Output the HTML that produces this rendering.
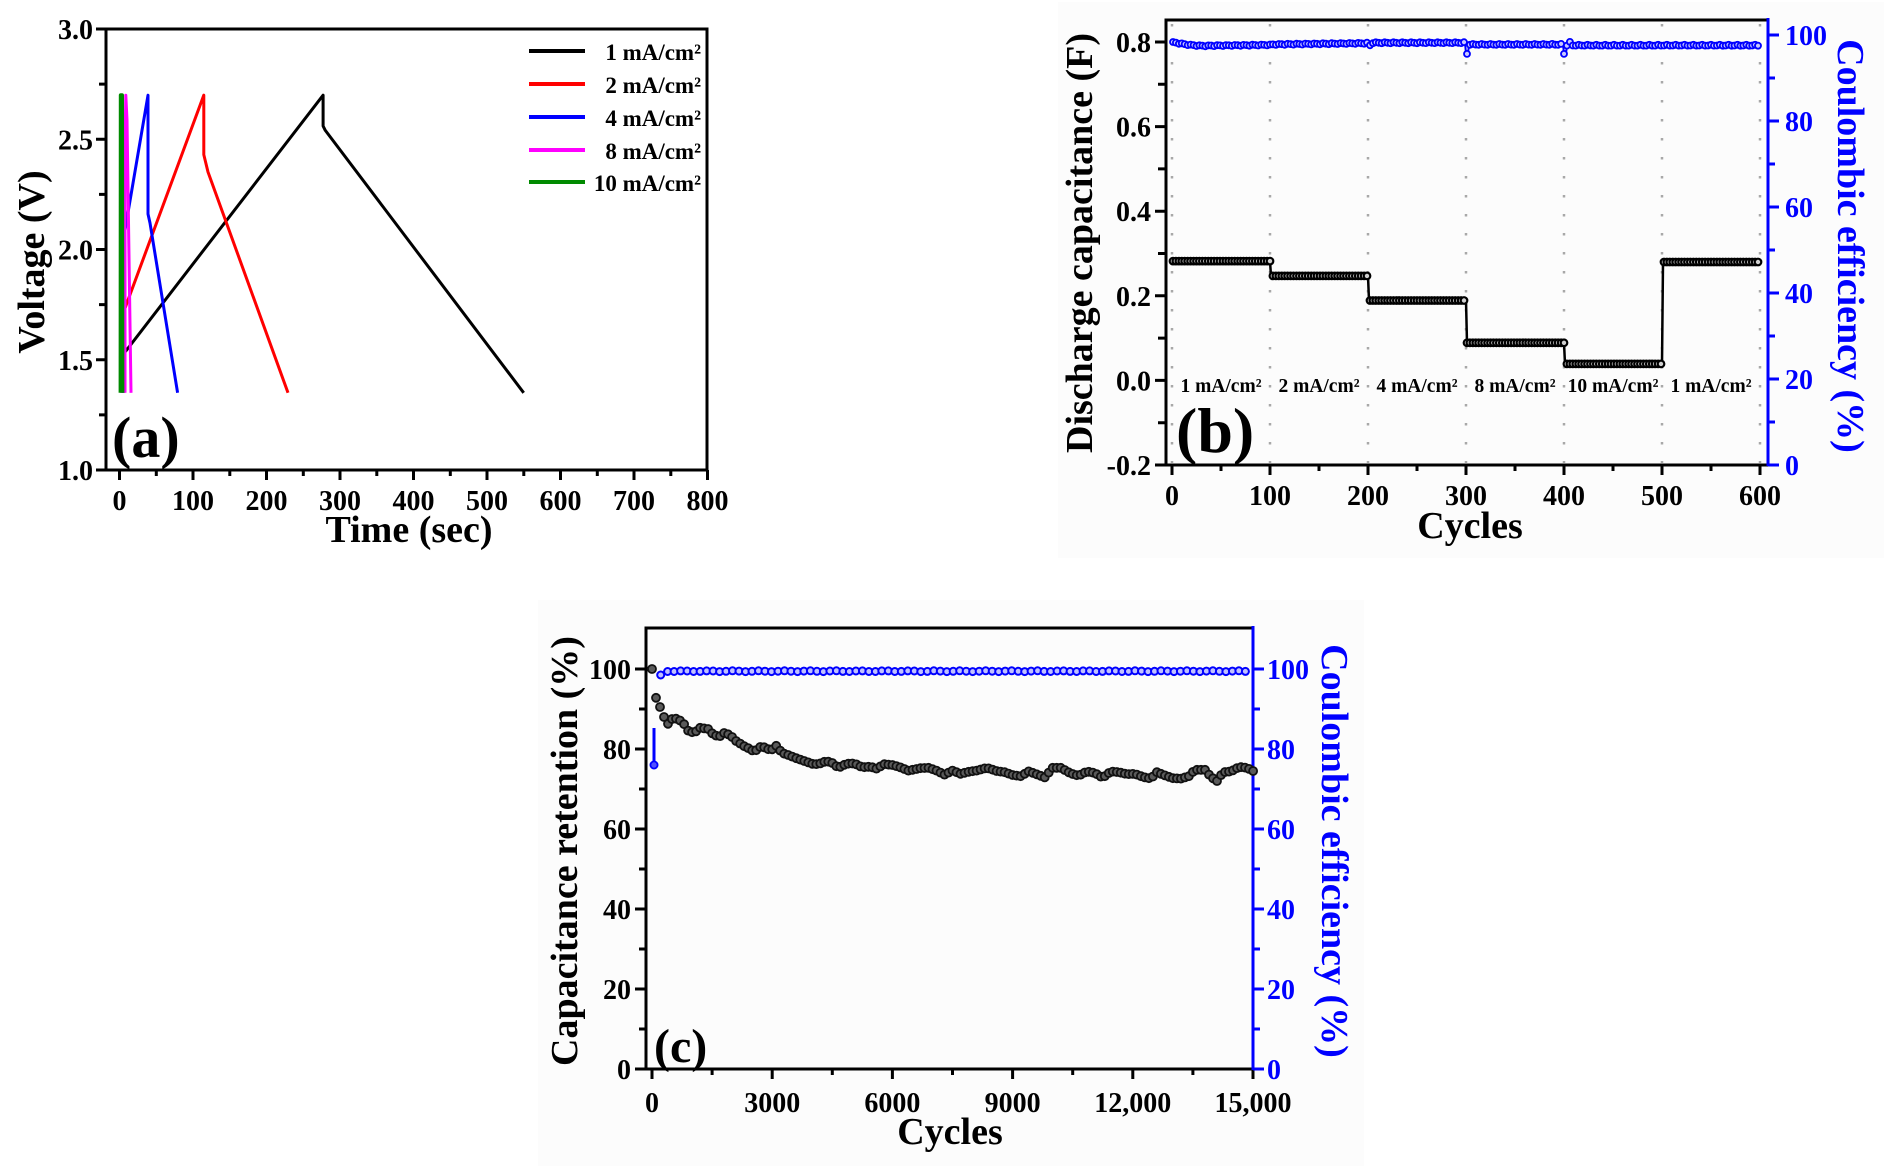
<!DOCTYPE html>
<html><head><meta charset="utf-8"><style>
html,body{margin:0;padding:0;background:#fff}
svg{display:block}
text{font-family:"Liberation Serif","Times New Roman",serif;font-weight:bold}
</style></head><body>
<svg id="d" width="1888" height="1172" viewBox="0 0 1888 1172" xmlns="http://www.w3.org/2000/svg">
<rect width="1888" height="1172" fill="#fff"/>
<rect x="1058" y="2" width="826" height="556" fill="#fcfcfc"/>
<rect x="538" y="600" width="826" height="566" fill="#fcfcfc"/>

<!-- ===== Panel (a) ===== -->
<g stroke="#000" stroke-width="3" fill="none">
<rect x="106" y="29" width="601" height="441"/>
<path d="M96 470H106M96 359.8H106M96 249.5H106M96 139.3H106M96 29H106M99 414.9H106M99 304.6H106M99 194.4H106M99 84.1H106"/>
<path d="M119.5 470V480M193 470V480M266.5 470V480M340 470V480M413.5 470V480M487 470V480M560.5 470V480M634 470V480M707.5 470V480M156.3 470V476M229.8 470V476M303.3 470V476M376.8 470V476M450.3 470V476M523.8 470V476M597.3 470V476M670.8 470V476"/>
</g>
<g font-size="28" text-anchor="end">
<text x="93" y="480">1.0</text><text x="93" y="370">1.5</text><text x="93" y="259.5">2.0</text><text x="93" y="149.3">2.5</text><text x="93" y="39">3.0</text>
</g>
<g font-size="28" text-anchor="middle">
<text x="119.5" y="510">0</text><text x="193" y="510">100</text><text x="266.5" y="510">200</text><text x="340" y="510">300</text><text x="413.5" y="510">400</text><text x="487" y="510">500</text><text x="560.5" y="510">600</text><text x="634" y="510">700</text><text x="707.5" y="510">800</text>
</g>
<text x="409" y="542" font-size="38" text-anchor="middle">Time (sec)</text>
<text transform="translate(44,262) rotate(-90)" font-size="38" text-anchor="middle">Voltage (V)</text>
<text x="112" y="457" font-size="58">(a)</text>
<g fill="none" stroke-width="3" stroke-linejoin="round">
<polyline stroke="#000" points="121.7,392.8 121.7,356.4 323.1,95.2 323.1,126 325.3,130.4 523.7,392.8"/>
<polyline stroke="#ff0000" points="123.9,392.8 123.9,311.2 203.8,95.2 203.8,154.7 208,172 288,392.8"/>
<polyline stroke="#0000ff" points="123.2,392.8 123.2,240.7 148,95.2 148,214 150,223 177.6,392.8"/>
<polyline stroke="#ff00ff" points="125,392.8 125,150 125.8,95.2 127,120 131,392.8"/>
<polyline stroke="#008a00" stroke-width="4" points="120.6,392.8 120.8,95.2 122,95.2 122.4,392.8"/>
</g>
<g stroke-width="4">
<line x1="529" y1="51" x2="585" y2="51" stroke="#000"/>
<line x1="529" y1="84" x2="585" y2="84" stroke="#ff0000"/>
<line x1="529" y1="117" x2="585" y2="117" stroke="#0000ff"/>
<line x1="529" y1="150" x2="585" y2="150" stroke="#ff00ff"/>
<line x1="529" y1="182" x2="585" y2="182" stroke="#008a00"/>
</g>
<g font-size="23" text-anchor="end">
<text x="701" y="60">1 mA/cm²</text>
<text x="701" y="93">2 mA/cm²</text>
<text x="701" y="126">4 mA/cm²</text>
<text x="701" y="159">8 mA/cm²</text>
<text x="701" y="191">10 mA/cm²</text>
</g>

<!-- ===== Panel (b) ===== -->
<g stroke="#a8a8a8" stroke-width="2.5" stroke-dasharray="2.5 16.5">
<line x1="1172" y1="24" x2="1172" y2="463"/><line x1="1270" y1="24" x2="1270" y2="463"/><line x1="1368" y1="24" x2="1368" y2="463"/><line x1="1466" y1="24" x2="1466" y2="463"/><line x1="1564" y1="24" x2="1564" y2="463"/><line x1="1662" y1="24" x2="1662" y2="463"/><line x1="1760" y1="24" x2="1760" y2="463"/>
</g>
<g stroke="#000" stroke-width="3" fill="none">
<path d="M1166 465V20H1768M1166 465H1768"/>
<path d="M1155 42H1166M1155 126.6H1166M1155 211.2H1166M1155 295.8H1166M1155 380.4H1166M1155 465H1166M1158 84.3H1166M1158 168.9H1166M1158 253.5H1166M1158 338.1H1166M1158 422.7H1166"/>
<path d="M1172 465V475M1270 465V475M1368 465V475M1466 465V475M1564 465V475M1662 465V475M1760 465V475M1221 465V471M1319 465V471M1417 465V471M1515 465V471M1613 465V471M1711 465V471"/>
</g>
<g stroke="#0000ff" stroke-width="3" fill="none">
<path d="M1768 18V466"/>
<path d="M1768 465H1779M1768 379H1779M1768 293H1779M1768 207H1779M1768 121H1779M1768 35H1779M1768 422H1775M1768 336H1775M1768 250H1775M1768 164H1775M1768 78H1775"/>
</g>
<g font-size="28" text-anchor="end">
<text x="1151" y="52">0.8</text><text x="1151" y="136.6">0.6</text><text x="1151" y="221.2">0.4</text><text x="1151" y="305.8">0.2</text><text x="1151" y="390.4">0.0</text><text x="1151" y="475">-0.2</text>
</g>
<g font-size="28" fill="#0000ff">
<text x="1785" y="475">0</text><text x="1785" y="389">20</text><text x="1785" y="303">40</text><text x="1785" y="217">60</text><text x="1785" y="131">80</text><text x="1785" y="45">100</text>
</g>
<g font-size="28" text-anchor="middle">
<text x="1172" y="505">0</text><text x="1270" y="505">100</text><text x="1368" y="505">200</text><text x="1466" y="505">300</text><text x="1564" y="505">400</text><text x="1662" y="505">500</text><text x="1760" y="505">600</text>
</g>
<text x="1470" y="538" font-size="38" text-anchor="middle">Cycles</text>
<text transform="translate(1092,243) rotate(-90)" font-size="38" text-anchor="middle">Discharge capacitance (F)</text>
<text transform="translate(1838,246) rotate(90)" font-size="38" text-anchor="middle" fill="#0000ff">Coulombic efficiency (%)</text>
<g font-size="19.5" text-anchor="middle">
<text x="1221" y="392">1 mA/cm²</text><text x="1319" y="392">2 mA/cm²</text><text x="1417" y="392">4 mA/cm²</text><text x="1515" y="392">8 mA/cm²</text><text x="1613" y="392">10 mA/cm²</text><text x="1711" y="392">1 mA/cm²</text>
</g>
<text x="1176" y="452" font-size="64">(b)</text>

<!-- ===== Panel (c) ===== -->
<g stroke="#000" stroke-width="3" fill="none">
<path d="M646 1069V628H1253M646 1069H1253"/>
<path d="M635 1069H646M635 989H646M635 909H646M635 829H646M635 749H646M635 669H646M639 1029H646M639 949H646M639 869H646M639 789H646M639 709H646"/>
<path d="M652 1069V1079M772.2 1069V1079M892.4 1069V1079M1012.6 1069V1079M1132.8 1069V1079M1253 1069V1079M712.1 1069V1075M832.3 1069V1075M952.5 1069V1075M1072.7 1069V1075M1192.9 1069V1075"/>
</g>
<g stroke="#0000ff" stroke-width="3" fill="none">
<path d="M1253 626V1070"/>
<path d="M1253 1069H1264M1253 989H1264M1253 909H1264M1253 829H1264M1253 749H1264M1253 669H1264M1253 1029H1260M1253 949H1260M1253 869H1260M1253 789H1260M1253 709H1260"/>
</g>
<g font-size="28" text-anchor="end">
<text x="631" y="1079">0</text><text x="631" y="999">20</text><text x="631" y="919">40</text><text x="631" y="839">60</text><text x="631" y="759">80</text><text x="631" y="679">100</text>
</g>
<g font-size="28" fill="#0000ff">
<text x="1267" y="1079">0</text><text x="1267" y="999">20</text><text x="1267" y="919">40</text><text x="1267" y="839">60</text><text x="1267" y="759">80</text><text x="1267" y="679">100</text>
</g>
<g font-size="28" text-anchor="middle">
<text x="652" y="1112">0</text><text x="772.2" y="1112">3000</text><text x="892.4" y="1112">6000</text><text x="1012.6" y="1112">9000</text><text x="1132.8" y="1112">12,000</text><text x="1253" y="1112">15,000</text>
</g>
<text x="950" y="1144" font-size="38" text-anchor="middle">Cycles</text>
<text transform="translate(577,851) rotate(-90)" font-size="38" text-anchor="middle">Capacitance retention (%)</text>
<text transform="translate(1322,851) rotate(90)" font-size="38" text-anchor="middle" fill="#0000ff">Coulombic efficiency (%)</text>
<text x="654" y="1062" font-size="48">(c)</text>
<line x1="654" y1="765" x2="654" y2="728" stroke="#0000ff" stroke-width="3"/>
<g id="dyn"></g>
</svg>
<script>
(function(){
var g=document.getElementById('dyn');
function add(tag,a){var e=document.createElementNS('http://www.w3.org/2000/svg',tag);for(var k in a)e.setAttribute(k,a[k]);g.appendChild(e);return e;}
var lv=[0.282,0.247,0.189,0.089,0.039,0.280];
function bx(c){return 1172+0.98*c;} function by(f){return 380.4-423*f;} function bp(p){return 465-4.3*p;}
var pts=[];
for(var c=1;c<=600;c++){var k=Math.min(5,Math.floor((c-1)/100));pts.push(bx(c).toFixed(1)+','+by(lv[k]).toFixed(1));}
add('polyline',{points:pts.join(' '),fill:'none',stroke:'#000','stroke-width':2.5});
for(var c=1;c<=600;c+=3){var k=Math.min(5,Math.floor((c-1)/100));add('circle',{cx:bx(c).toFixed(1),cy:by(lv[k]).toFixed(1),r:3.3,fill:'#d0d0d0',stroke:'#000','stroke-width':2.2});}
function bv(c){
 var k=Math.min(5,Math.floor((c-1)/100)); var t=((c-1)%100)/100;
 var base=[97.6,97.9,98.2,97.8,97.6,97.6][k];
 if(k==0) base=98.3-0.9*Math.sin(Math.min(1,t*3)*1.57)+0.3*t;
 if(k==1) base=97.8+0.3*t;
 var v=base+0.12*Math.sin(c*0.7);
 if(c>=300&&c<=302) v=95.6;
 if(c>=400&&c<=402) v=95.6;
 if(c>=200&&c<=202) v=97.6;
 if(c>=404&&c<=407) v=98.4;
 return v;}
var bp2=[];
for(var c=1;c<=600;c++){bp2.push(bx(c).toFixed(1)+','+bp(bv(c)).toFixed(1));}
add('polyline',{points:bp2.join(' '),fill:'none',stroke:'#0000ff','stroke-width':2});
for(var c=1;c<=600;c+=3){add('circle',{cx:bx(c).toFixed(1),cy:bp(bv(c)).toFixed(1),r:3,fill:'#c8c8ff',stroke:'#0000ff','stroke-width':1.8});}
function cx(c){return 652+0.04007*c;} function cy(p){return 1069-4*p;}
var K=[[0,100],[100,92.8],[200,90.5],[300,88],[400,86.3],[500,87.5],[650,87.6],[800,86.2],[900,84.6],[1050,84],[1200,85.3],[1400,85],[1550,83.4],[1720,83.2],[1800,84],[1950,83.5],[2100,82],[2300,80.7],[2450,80],[2550,79.3],[2700,80.5],[2850,80.4],[2950,79.5],[3100,80.8],[3250,79],[3400,78.5],[3600,77.7],[3800,77],[4000,76.3],[4150,76.2],[4350,77],[4500,76.5],[4650,75.3],[4850,76.3],[5050,76.4],[5250,75.4],[5450,75.6],[5600,75.1],[5800,76.2],[6000,76],[6150,75.6],[6400,74.6],[6700,75.2],[6900,75.3],[7100,74.6],[7300,73.6],[7500,74.6],[7700,73.8],[7900,74.3],[8100,74.6],[8350,75.3],[8600,74.5],[8800,74.2],[9000,73.5],[9200,73.2],[9400,74.4],[9650,73.5],[9800,72.9],[10000,75.3],[10200,75.3],[10450,73.9],[10650,73.3],[10850,74.4],[11050,74],[11250,72.8],[11450,74.4],[11650,74.2],[11850,73.7],[12050,73.8],[12250,73],[12450,72.6],[12600,74.2],[12800,73.4],[13000,72.7],[13200,72.6],[13400,73.2],[13550,74.8],[13800,74.8],[13950,73],[14100,72],[14250,74.2],[14450,74.4],[14650,75.5],[14850,75.3],[15000,74.5]];
function ip(c){for(var i=1;i<K.length;i++){if(c<=K[i][0]){var a=K[i-1],b=K[i];return a[1]+(b[1]-a[1])*(c-a[0])/(b[0]-a[0]);}}return K[K.length-1][1];}
for(var c=0;c<=15000;c+=100){add('circle',{cx:cx(c).toFixed(1),cy:cy(ip(c)).toFixed(1),r:4,fill:'#5a5a5a',stroke:'#111','stroke-width':1.8});}
add('circle',{cx:654,cy:765,r:3.6,fill:'#5050ff',stroke:'#0000ff','stroke-width':1.8});
add('circle',{cx:cx(217).toFixed(1),cy:cy(98.5).toFixed(1),r:3.5,fill:'#c0c0ff',stroke:'#0000ff','stroke-width':2});
for(var c=390;c<=14950;c+=162){var v=99.45+0.1*Math.sin(c*0.01);add('circle',{cx:cx(c).toFixed(1),cy:cy(v).toFixed(1),r:3.5,fill:'#c0c0ff',stroke:'#0000ff','stroke-width':2});}
})();
</script>
</body></html>
